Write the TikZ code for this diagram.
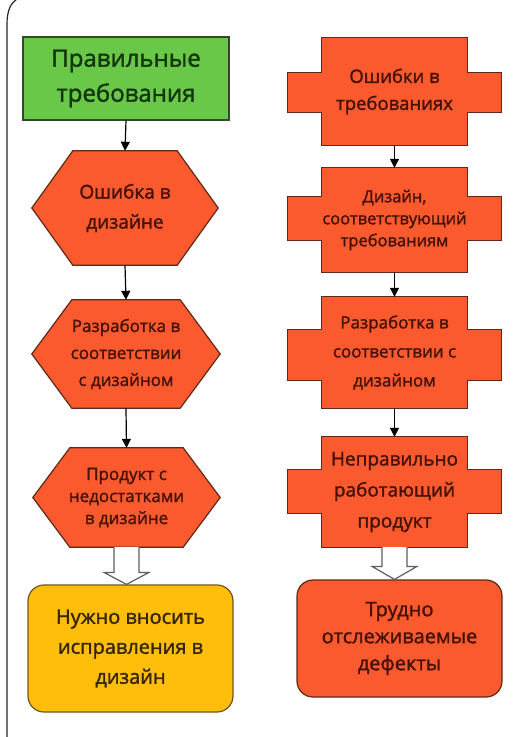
\documentclass[tikz,border=0pt]{standalone}
\usepackage{fontspec}
\setmainfont{Open Sans}
\newfontfamily\semib{Open Sans}[FakeBold=1.6]
\usetikzlibrary{arrows.meta,calc,backgrounds}
\definecolor{orfill}{RGB}{250,90,45}
\definecolor{ordraw}{RGB}{95,40,25}
\definecolor{ortext}{RGB}{70,18,8}
\definecolor{grfill}{RGB}{106,200,72}
\definecolor{grdraw}{RGB}{55,70,45}
\definecolor{grtext}{RGB}{20,55,15}
\definecolor{ylfill}{RGB}{254,190,10}
\definecolor{yldraw}{RGB}{115,85,25}
\definecolor{yltext}{RGB}{55,38,5}
\definecolor{hollowdraw}{RGB}{95,95,95}
\newcommand\hexshape[2]{%
  \draw[shapeline,fill=orfill] (#1.west) -- ($(#1.north west)+(#2,0)$) -- ($(#1.north east)+(-#2,0)$) -- (#1.east)
    -- ($(#1.south east)+(-#2,0)$) -- ($(#1.south west)+(#2,0)$) -- cycle;}
\newcommand\crossshape[4]{%
  \draw[shapeline,fill=orfill] (#1.north west) -- (#1.north east) -- ($(#1.north east)+(0,#2)$) -- ($(#1.north east)+(#4,#2)$)
    -- ($(#1.south east)+(#4,-#3)$) -- ($(#1.south east)+(0,-#3)$) -- (#1.south east) -- (#1.south west)
    -- ($(#1.south west)+(0,-#3)$) -- ($(#1.south west)+(-#4,-#3)$) -- ($(#1.north west)+(-#4,#2)$)
    -- ($(#1.north west)+(0,#2)$) -- cycle;}
\newcommand\hollowarrow[3]{%
  \draw[hollowarr] let \p1=(#1.south), \p2=(#2.north) in
    (\x1-12.5pt,\y1) -- (\x1-12.5pt,\y2+#3) -- (\x1-22.5pt,\y2+#3) -- (\x1,\y2)
    -- (\x1+22.5pt,\y2+#3) -- (\x1+12.5pt,\y2+#3) -- (\x1+12.5pt,\y1);}
\begin{document}
\begin{tikzpicture}[x=1pt,y=-1pt,
  lbl/.style={inner sep=0pt, align=center, text=ortext},
  shapeline/.style={draw=ordraw, line width=1.2pt, line join=miter},
  arr/.style={draw=black, line width=1.2pt, -{Triangle[length=9pt,width=9pt]}},
  hollowarr/.style={draw=hollowdraw, fill=white, line width=1.2pt},
  frame/.style={draw=black!85, line width=1.2pt}]
\useasboundingbox (0,0) rectangle (521,737);
% ---------- nodes ----------
\node[lbl, draw=grdraw, fill=grfill, line width=1.2pt, text=grtext, minimum width=206pt, minimum height=83pt,
  font=\semib\fontsize{24}{35}\selectfont] (g) at (126,78.5) {Правильные\\требования};
\node[lbl, minimum width=186pt, minimum height=114pt, font=\semib\fontsize{19}{30}\selectfont] (h1) at (125,208) {Ошибка в\\дизайне};
\node[lbl, minimum width=188pt, minimum height=108pt, font=\semib\fontsize{17}{27}\selectfont] (h2) at (126,354) {Разработка в\\соответствии\\с дизайном};
\node[lbl, minimum width=187pt, minimum height=99pt, font=\semib\fontsize{17}{22}\selectfont] (h3) at (126.5,497.5) {Продукт с\\недостатками\\в дизайне};
\node[lbl, draw=yldraw, fill=ylfill, line width=1.2pt, rounded corners=16pt, text=yltext, minimum width=205pt, minimum height=127pt,
  font=\semib\fontsize{20}{30}\selectfont] (y) at (130.5,648.5) {Нужно вносить\\исправления в\\дизайн};
\node[lbl, minimum width=145pt, minimum height=107pt, font=\semib\fontsize{18.5}{27}\selectfont] (c1) at (394.5,91.5) {Ошибки в\\требованиях};
\node[lbl, minimum width=145pt, minimum height=104pt, font=\semib\fontsize{16.5}{22}\selectfont] (c2) at (394.5,220) {Дизайн,\\соответствующий\\требованиям};
\node[lbl, minimum width=145pt, minimum height=111pt, font=\semib\fontsize{17}{29}\selectfont] (c3) at (394.5,352.5) {Разработка в\\соответствии с\\дизайном};
\node[lbl, minimum width=145pt, minimum height=110pt, font=\semib\fontsize{19}{31}\selectfont] (c4) at (394.5,492) {Неправильно\\работающий\\продукт};
\node[lbl, draw=ordraw, fill=orfill, line width=1.2pt, rounded corners=16pt, minimum width=205pt, minimum height=117pt,
  font=\semib\fontsize{20}{27}\selectfont] (o) at (399.5,638.5) {Трудно\\отслеживаемые\\дефекты};
% ---------- shapes ----------
\begin{scope}[on background layer]
  \fill[white] (0,0) rectangle (521,737);
  \hexshape{h1}{41}
  \hexshape{h2}{40}
  \hexshape{h3}{37}
  \crossshape{c1}{35}{33}{34.5}
  \crossshape{c2}{29}{32}{34.5}
  \crossshape{c3}{33}{28}{34.5}
  \crossshape{c4}{33}{34}{34.5}
\end{scope}
% ---------- frame ----------
\draw[frame] (7,737) -- (7,24) .. controls (7,10) and (11,3) .. (17,-1);
% ---------- connectors ----------
\draw[arr] (g.south) -- (h1.north);
\draw[arr] (h1.south) -- (h2.north);
\draw[arr] (h2.south) -- (h3.north);
\hollowarrow{h3}{y}{12pt}
\draw[arr] (c1.south) -- (c2.north);
\draw[arr] (c2.south) -- (c3.north);
\draw[arr] (c3.south) -- (c4.north);
\hollowarrow{c4}{o}{13pt}
\end{tikzpicture}
\end{document}
